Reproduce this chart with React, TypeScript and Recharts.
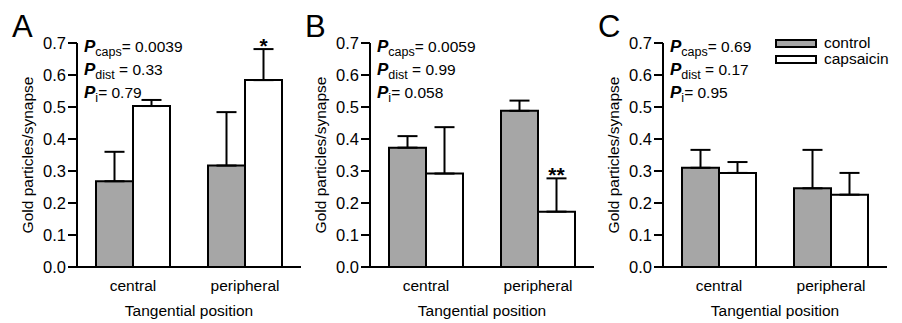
import React from 'react';
import { BarChart, Bar, XAxis, YAxis, ErrorBar, LabelList, Legend } from 'recharts';

const categories = ['central', 'peripheral'];
const seriesNames = ['control', 'capsaicin'];
const yTicks = [0, 0.1, 0.2, 0.3, 0.4, 0.5, 0.6, 0.7];

// Panel A
const controlA = [0.268, 0.317];
const controlErrA = [0.092, 0.167];
const capsA = [0.503, 0.584];
const capsErrA = [0.019, 0.097];
const sigA = ['', '*'];
const statsA = ['0.0039', '0.33', '0.79'];

// Panel B
const controlB = [0.373, 0.488];
const controlErrB = [0.036, 0.032];
const capsB = [0.292, 0.173];
const capsErrB = [0.145, 0.104];
const sigB = ['', '**'];
const statsB = ['0.0059', '0.99', '0.058'];

// Panel C
const controlC = [0.31, 0.246];
const controlErrC = [0.056, 0.12];
const capsC = [0.294, 0.226];
const capsErrC = [0.034, 0.068];
const sigC = ['', ''];
const statsC = ['0.69', '0.17', '0.95'];

const FONT = '"Liberation Sans", Arial, Helvetica, sans-serif';
const GRAY = '#a6a6a6';

type Row = {
  category: string;
  control: number;
  capsaicin: number;
  controlErr: [number, number];
  capsErr: [number, number];
  sig: string;
};

function buildRows(ctrl: number[], ctrlErr: number[], caps: number[], capsErr: number[], sig: string[]): Row[] {
  return categories.map((c, i) => ({
    category: c,
    control: ctrl[i],
    capsaicin: caps[i],
    controlErr: [0, ctrlErr[i]],
    capsErr: [0, capsErr[i]],
    sig: sig[i],
  }));
}

const YLabel = (props: any) => {
  const vb = props.viewBox || {};
  const cx = vb.x + vb.width - 50;
  const cy = vb.y + vb.height / 2;
  return (
    <text
      x={cx}
      y={cy}
      transform={`rotate(-90 ${cx} ${cy})`}
      textAnchor="middle"
      dominantBaseline="central"
      fontSize={15.5}
      fill="#000"
    >
      Gold particles/synapse
    </text>
  );
};

const makeStar = (rows: Row[]) => (props: any) => {
  const { x, y, width, height, index, value } = props;
  if (!value) return null;
  const r = rows[index];
  const pxPerUnit = height / r.capsaicin;
  const errTop = y - r.capsErr[1] * pxPerUnit;
  return (
    <text x={x + width / 2} y={errTop + 4} textAnchor="middle" fontSize={21} fontWeight="bold" fill="#000">
      {value}
    </text>
  );
};

const LegendContent = (props: any) => {
  const payload = [...(props.payload || [])].sort(
    (a: any, b: any) => seriesNames.indexOf(a.value) - seriesNames.indexOf(b.value)
  );
  return (
    <div style={{ fontFamily: FONT }}>
      {payload.map((e: any) => (
        <div key={e.value} style={{ display: 'flex', alignItems: 'center', height: 16, fontSize: 15.5, lineHeight: '16px', color: '#000' }}>
          <span
            style={{
              display: 'inline-block',
              width: 42,
              height: 9,
              boxSizing: 'border-box',
              border: '2px solid #000',
              background: (e.payload && e.payload.fill) || e.color,
              marginRight: 7,
            }}
          />
          {e.value}
        </div>
      ))}
    </div>
  );
};

const PStats = ({ stats }: { stats: string[] }) => {
  const x = 84;
  const ys = [52, 75, 98];
  const subs = ['caps', 'dist', 'i'];
  const mids = ['= ', ' = ', '= '];
  return (
    <g>
      {stats.map((s, i) => (
        <text key={i} x={x} y={ys[i]} fontSize={15.5} fill="#000">
          <tspan fontStyle="italic" fontWeight="bold" fontSize={17}>P</tspan>
          <tspan fontSize={12.5} dy={4}>{subs[i]}</tspan>
          <tspan dy={-4}>{mids[i] + s}</tspan>
        </text>
      ))}
    </g>
  );
};

type PanelProps = { left: number; letter: string; rows: Row[]; stats: string[]; legend?: boolean };

const Panel = ({ left, letter, rows, stats, legend }: PanelProps) => (
  <div style={{ position: 'absolute', left, top: 0 }}>
    <BarChart
      width={302}
      height={323}
      data={rows}
      margin={{ top: 43, right: 1, bottom: 0, left: 0 }}
      barGap={0}
      barSize={37}
    >
      <XAxis
        dataKey="category"
        axisLine={{ stroke: '#000', strokeWidth: 2 }}
        tickLine={false}
        tick={{ fill: '#000', fontSize: 15.5 }}
        tickMargin={7}
        height={56}
        label={{ value: 'Tangential position', position: 'insideBottom', offset: 7, fill: '#000', fontSize: 15.5 }}
      />
      <YAxis
        type="number"
        domain={[0, 0.7]}
        ticks={yTicks}
        interval={0}
        tickFormatter={(v: number) => v.toFixed(1)}
        width={77}
        axisLine={{ stroke: '#000', strokeWidth: 2 }}
        tickLine={{ stroke: '#000', strokeWidth: 2 }}
        tickSize={9}
        tickMargin={2}
        tick={{ fill: '#000', fontSize: 16.5 }}
        label={{ content: YLabel }}
      />
      <Bar dataKey="control" name="control" fill={GRAY} stroke="#000" strokeWidth={2} isAnimationActive={false}>
        <ErrorBar dataKey="controlErr" direction="y" width={10} stroke="#000" strokeWidth={2} />
      </Bar>
      <Bar dataKey="capsaicin" name="capsaicin" fill="#ffffff" stroke="#000" strokeWidth={2} isAnimationActive={false}>
        <ErrorBar dataKey="capsErr" direction="y" width={10} stroke="#000" strokeWidth={2} />
        <LabelList dataKey="sig" content={makeStar(rows)} />
      </Bar>
      {legend && (
        <Legend
          layout="vertical"
          align="center"
          verticalAlign="middle"
          content={LegendContent}
          wrapperStyle={{ left: 189, top: 35, width: 115 }}
        />
      )}
      <text x={12} y={37} fontSize={31} fill="#000">{letter}</text>
      <PStats stats={stats} />
    </BarChart>
  </div>
);

export default function App() {
  const rowsA = buildRows(controlA, controlErrA, capsA, capsErrA, sigA);
  const rowsB = buildRows(controlB, controlErrB, capsB, capsErrB, sigB);
  const rowsC = buildRows(controlC, controlErrC, capsC, capsErrC, sigC);
  return (
    <div style={{ position: 'absolute', left: 0, top: 0, width: 902, height: 323, background: '#fff', fontFamily: FONT }}>
      <Panel left={0} letter="A" rows={rowsA} stats={statsA} />
      <Panel left={293} letter="B" rows={rowsB} stats={statsB} />
      <Panel left={586} letter="C" rows={rowsC} stats={statsC} legend />
    </div>
  );
}
